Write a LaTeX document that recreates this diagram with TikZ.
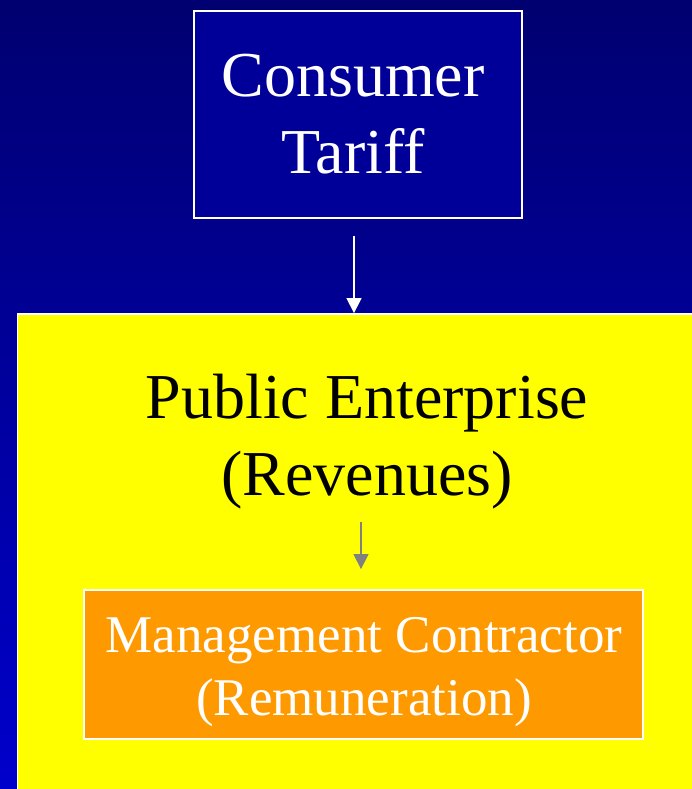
\documentclass[tikz,border=0pt]{standalone}
\usepackage{fontspec}
\setmainfont{Liberation Serif}
\usepackage{tikz}
\usetikzlibrary{arrows.meta}

\definecolor{navytop}{RGB}{0,0,112}
\definecolor{navybottom}{RGB}{0,0,204}
\definecolor{tariffblue}{RGB}{0,0,153}
\definecolor{enterpriseyellow}{RGB}{255,255,0}
\definecolor{contractorange}{RGB}{255,153,0}

\tikzset{
  box/.style={draw=white, line width=1.8pt, inner sep=0pt},
  caption/.style={inner sep=0pt, align=center},
  flow/.style={line width=1.3pt, -{Triangle[width=15pt,length=15pt]}},
}

\begin{document}
\begin{tikzpicture}[x=1pt, y=-1pt]
	\clip (0,0) rectangle (692,789);
	\shade[top color=navytop, bottom color=navybottom] (0,0) rectangle (692,789);
	% boxes
	\node[box, fill=tariffblue, minimum width=328pt, minimum height=207pt] (tariff) at (358,114.5) {};
	\node[box, fill=enterpriseyellow, minimum width=692.5pt, minimum height=496pt] (enterprise) at (363.75,562) {};
	\node[box, fill=contractorange, minimum width=559pt, minimum height=149pt] (contractor) at (363.5,664.5) {};
	% texts
	\node[caption, text=white, font=\fontsize{64}{77}\selectfont] (consumer) at (353,114.5) {Consumer\\Tariff};
	\node[caption, font=\fontsize{64}{77}\selectfont] (revenues) at (367,441.5) {Public Enterprise\\(Revenues)};
	\node[caption, text=white, font=\fontsize{53}{63}\selectfont] (remuneration) at (364,672.5) {Management Contractor\\(Remuneration)};
	% money flows downwards
	\draw[flow, white] ([xshift=-4pt,yshift=-17pt]tariff.south) -- ([xshift=-4pt]tariff.south |- enterprise.north);
	\draw[flow, gray] ([xshift=-6pt,yshift=-13pt]revenues.south) -- ([xshift=-2.5pt,yshift=20pt]contractor.north);
\end{tikzpicture}
\end{document}
